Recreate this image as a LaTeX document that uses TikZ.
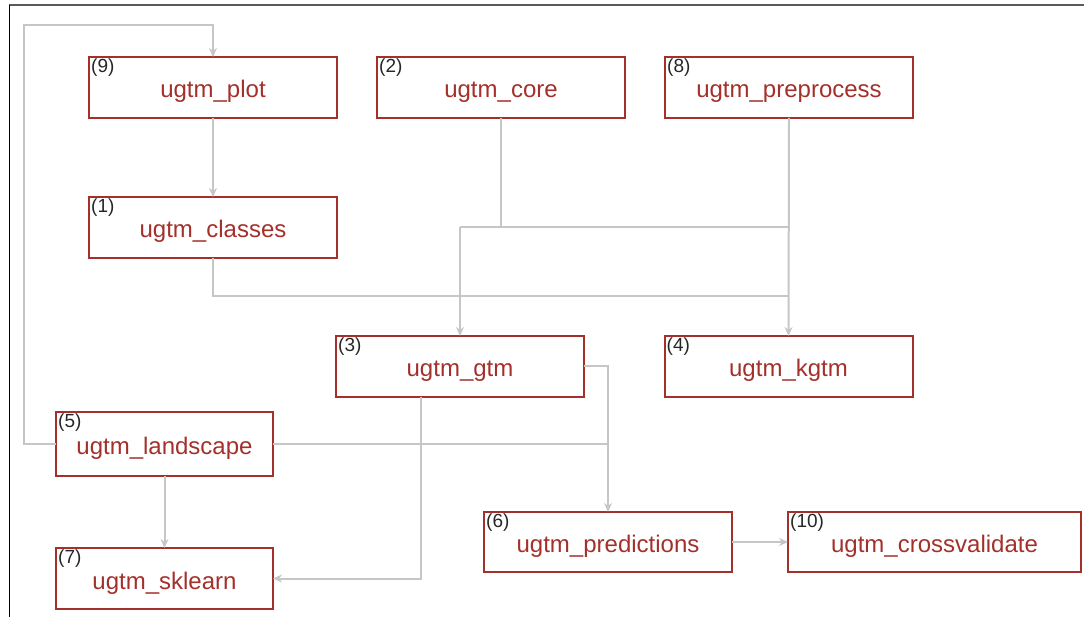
\documentclass[tikz,border=0pt]{standalone}
\usepackage{fontspec}
\setmainfont{Liberation Sans}
\usepackage{tikz}
\usetikzlibrary{positioning, arrows.meta}
\definecolor{boxRed}{HTML}{A3302B}
\definecolor{linkGray}{HTML}{C6C6C6}
\definecolor{frameGray}{HTML}{5A5A5A}
\tikzset{Module/.style={%
    shape=rectangle,%
    draw=boxRed,%
    line width=2pt,%
    text=boxRed,%
    font=\fontsize{24}{27}\selectfont,%
    text height=21pt,%
    text depth=0pt,%
    minimum width=248pt,%
    minimum height=61pt,%
    inner sep=0pt,%
    outer sep=0pt,%
}}
\tikzset{ModNum/.style={%
    label={[anchor=north west, inner sep=2pt, text=black!85,%
        font=\fontsize{19}{20}\selectfont]north west:(#1)},%
}}
\tikzset{Link/.style={%
    draw=linkGray,%
    line width=2pt,%
}}
\tikzset{LinkArrow/.style={%
    Link,%
    -{Stealth[length=9pt,width=8pt]},%
}}

\begin{document}
\begin{tikzpicture}[x=1pt, y=-1pt]
    \useasboundingbox (0,0) rectangle (1084,617);
    \draw[frameGray, line width=1.5pt] (1084,5) -- (9,5);
    \draw[black, line width=1pt] (9,5) -- (9,617);

    \node[Module, ModNum=9] (plot) at (213,87.5) {ugtm\_plot};
    \node[Module, ModNum=2, right=40pt of plot] (core) {ugtm\_core};
    \node[Module, ModNum=8, right=40pt of core] (preprocess) {ugtm\_preprocess};
    \node[Module, ModNum=1, below=79pt of plot] (classes) {ugtm\_classes};
    \node[Module, ModNum=3] (gtm) at (460,366.5) {ugtm\_gtm};
    \node[Module, ModNum=4] (kgtm) at (788.5,366.5) {ugtm\_kgtm};
    \node[Module, ModNum=5, minimum width=217pt, minimum height=64pt] (landscape) at (164.5,444) {ugtm\_landscape};
    \node[Module, ModNum=7, minimum width=217pt, below=72pt of landscape] (sklearn) {ugtm\_sklearn};
    \node[Module, ModNum=6, minimum height=60pt] (predictions) at (608,542) {ugtm\_predictions};
    \node[Module, ModNum=10, minimum width=293pt, minimum height=60pt, right=56pt of predictions] (crossval) {ugtm\_crossvalidate};

    \coordinate (busTop) at (460,227);
    \coordinate (busMid) at (213,296);

    \draw[LinkArrow] (landscape.west) -- ++(-32,0) |- ([yshift=32pt]plot.north) -- (plot.north);
    \draw[LinkArrow] (plot) -- (classes);
    \draw[Link] (core.south) -- (core.south |- busTop);
    \draw[Link] (busTop) -- (busTop -| preprocess.south);
    \draw[LinkArrow] (busTop) -- (gtm.north);
    \draw[LinkArrow] (preprocess.south) -- (kgtm.north);
    \draw[Link] (classes.south) -- (busMid) -- (busMid -| kgtm.north);
    \draw[LinkArrow] (gtm.east) -| (predictions.north);
    \draw[Link] (landscape.east) -- (landscape.east -| predictions.north);
    \draw[LinkArrow] ([xshift=-39pt]gtm.south) |- (sklearn.east);
    \draw[LinkArrow] (landscape) -- (sklearn);
    \draw[LinkArrow] (predictions) -- (crossval);
\end{tikzpicture}
\end{document}
